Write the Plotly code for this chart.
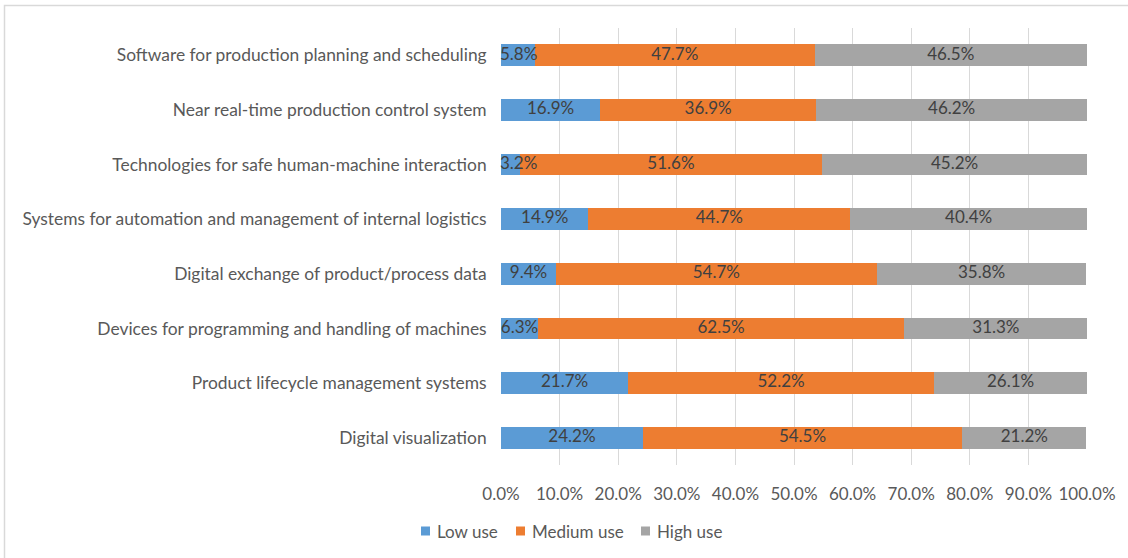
import plotly.graph_objects as go

categories = [
    "Software for production planning and scheduling",
    "Near real-time production control system",
    "Technologies for safe human-machine interaction",
    "Systems for automation and management of internal logistics",
    "Digital exchange of product/process data",
    "Devices for programming and handling of machines",
    "Product lifecycle management systems",
    "Digital visualization",
]
low_use = [5.8, 16.9, 3.2, 14.9, 9.4, 6.3, 21.7, 24.2]
medium_use = [47.7, 36.9, 51.6, 44.7, 54.7, 62.5, 52.2, 54.5]
high_use = [46.5, 46.2, 45.2, 40.4, 35.8, 31.3, 26.1, 21.2]
x_ticks = [0, 10, 20, 30, 40, 50, 60, 70, 80, 90, 100]
x_tick_labels = [f"{v:.1f}%" for v in x_ticks]
series_names = ["Low use", "Medium use", "High use"]

FONT = "Lato"
FS = 17
W, H = 1128, 558
ML, MR, MT, MB = 501, 41, 28, 93
PW, PH = W - ML - MR, H - MT - MB

colors = ["#5B9BD5", "#ED7D31", "#A5A5A5"]
series = list(zip(series_names, [low_use, medium_use, high_use], colors))

fig = go.Figure()
for name, vals, color in series:
    fig.add_trace(go.Bar(
        y=categories, x=vals, name=name, orientation="h",
        marker=dict(color=color, line=dict(width=0)),
        hoverinfo="x+y+name", showlegend=False,
    ))

# data labels drawn on top of all bars (centered in each segment,
# kept inside the plot area like the original)
base = [0.0] * len(categories)
for name, vals, color in series:
    mids = [max(b + v / 2, 3.0) for b, v in zip(base, vals)]
    fig.add_trace(go.Scatter(
        x=mids, y=categories, mode="text",
        text=[f"{v:.1f}%" for v in vals],
        textposition="middle center",
        textfont=dict(family=FONT, size=FS, color="#404040"),
        showlegend=False, hoverinfo="skip", cliponaxis=False,
    ))
    base = [b + v for b, v in zip(base, vals)]

def px_to_paper_x(px):
    return (px - ML) / PW

def px_to_paper_y(py):
    return (H - MB - py) / PH

shapes = [dict(
    type="rect", xref="paper", yref="paper",
    x0=px_to_paper_x(4.5), x1=px_to_paper_x(1140),
    y0=px_to_paper_y(570), y1=px_to_paper_y(5.5),
    line=dict(color="#D9D9D9", width=1.5), fillcolor="rgba(0,0,0,0)",
    layer="below",
)]
annotations = []
# manual legend (Excel-style small squares)
legend_sq_x = [421, 516, 641]
legend_y = 531
for (name, vals, color), sx in zip(series, legend_sq_x):
    shapes.append(dict(
        type="rect", xref="paper", yref="paper",
        x0=px_to_paper_x(sx), x1=px_to_paper_x(sx + 9),
        y0=px_to_paper_y(legend_y + 4.5), y1=px_to_paper_y(legend_y - 4.5),
        line=dict(width=0), fillcolor=color,
    ))
    annotations.append(dict(
        xref="paper", yref="paper",
        x=px_to_paper_x(sx + 14), y=px_to_paper_y(legend_y),
        xanchor="left", yanchor="middle", showarrow=False,
        text=name, font=dict(family=FONT, size=FS, color="#595959"),
    ))

fig.update_layout(
    barmode="stack",
    bargap=0.6,
    width=W, height=H,
    margin=dict(l=ML, r=MR, t=MT, b=MB, pad=0, autoexpand=False),
    paper_bgcolor="white", plot_bgcolor="white",
    font=dict(family=FONT, size=FS, color="#595959"),
    xaxis=dict(
        range=[0, 100], tickvals=x_ticks, ticktext=x_tick_labels,
        showgrid=True, gridcolor="#D9D9D9", gridwidth=1,
        zeroline=False, showline=False, fixedrange=True,
        tickfont=dict(family=FONT, size=FS, color="#595959"),
        ticks="outside", ticklen=14, tickcolor="rgba(0,0,0,0)",
        automargin=False,
    ),
    yaxis=dict(
        autorange="reversed", showgrid=False, zeroline=False,
        showline=False, ticks="", ticksuffix="   ",
        tickfont=dict(family=FONT, size=17.4, color="#595959"),
        automargin=False, fixedrange=True,
    ),
    showlegend=False,
    shapes=shapes,
    annotations=annotations,
)

fig.write_html(
    "out.html",
    config={"displayModeBar": False},
    post_script="document.body.style.margin='0';document.body.style.overflow='hidden';",
)
